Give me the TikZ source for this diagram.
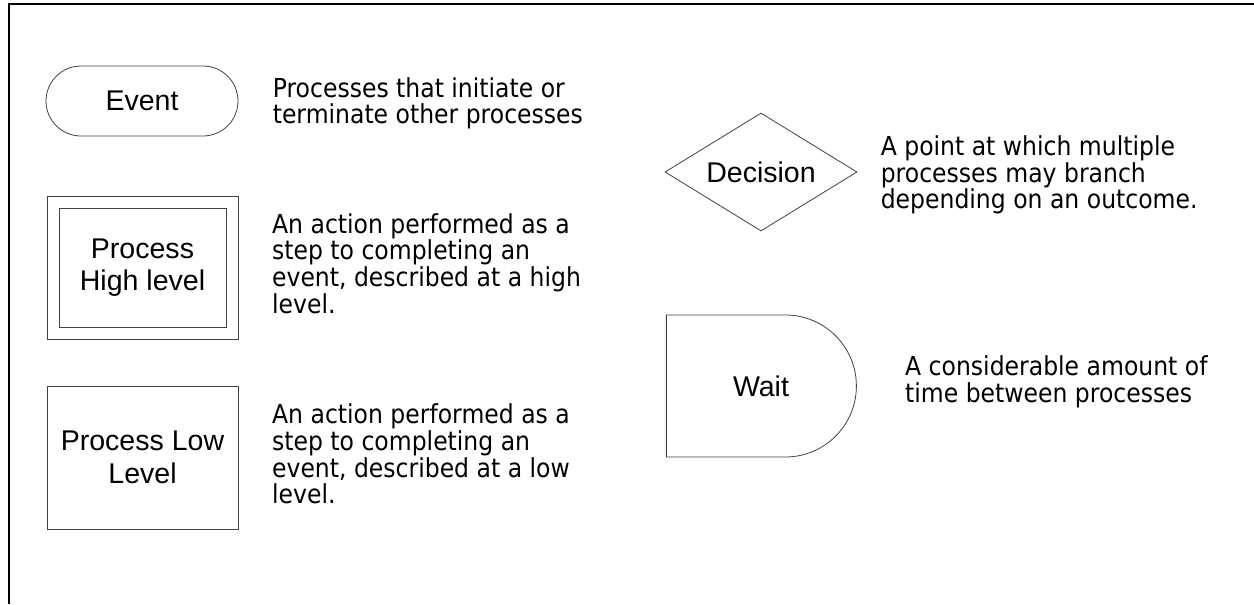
\documentclass[tikz,border=0pt]{standalone}
\usepackage{fontspec}
\setmainfont{Liberation Sans}
\newfontfamily\descfont[FakeStretch=0.9]{DejaVu Sans}
\usetikzlibrary{positioning,shapes.geometric,shapes.misc}

\begin{document}
\begin{tikzpicture}[x=0.75pt,y=-0.75pt,semithick,node distance=25pt,
  every node/.style={font=\fontsize{21.4pt}{24.4pt}\selectfont},
  shapeline/.style={draw=black!75,line width=0.6pt,align=center,inner sep=0pt},
  eventshape/.style={shapeline,rounded rectangle,minimum width=144pt,minimum height=52.5pt},
  procbox/.style={shapeline,rectangle,minimum width=143.25pt,minimum height=107.25pt},
  decisionshape/.style={shapeline,diamond,aspect=1.63,minimum width=144pt,minimum height=88.5pt},
  waitshape/.style={shapeline,rounded rectangle,rounded rectangle west arc=none,minimum width=142.5pt,minimum height=106.5pt},
  desc/.style={inner sep=0pt,align=left,font=\descfont\fontsize{19.6pt}{19.9pt}\selectfont}]
\useasboundingbox (0,0) rectangle (1254,604);
\draw[line width=1.5pt] (9,604) -- (9,4) -- (1254,4);

\node[eventshape] (event) at (142,101) {Event};
\node[procbox] (high) at (142.5,267.5) {};
\node[procbox,minimum width=125.25pt,minimum height=89.25pt] (highin) at (high.center) {Process\\High level};
\node[procbox] (low) at (142.5,457.5) {Process Low\\Level};
\node[decisionshape] (decision) at (761,172) {Decision};
\node[waitshape] (wait) at (761,386) {Wait};

\node[desc,right=25.5pt of event,yshift=-1.7pt] (eventtext) {Processes that initiate or\\terminate other processes};
\node[desc,right=25pt of high,yshift=3pt] (hightext) {An action performed as a\\step to completing an\\event, described at a high\\level.};
\node[desc,right=25pt of low,yshift=2.6pt] (lowtext) {An action performed as a\\step to completing an\\event, described at a low\\level.};
\node[desc,right=17.25pt of decision,yshift=-2.2pt] (decisiontext) {A point at which multiple\\processes may branch\\depending on an outcome.};
\node[desc,right=36pt of wait,yshift=3pt] (waittext) {A considerable amount of\\time between processes};
\end{tikzpicture}
\end{document}
